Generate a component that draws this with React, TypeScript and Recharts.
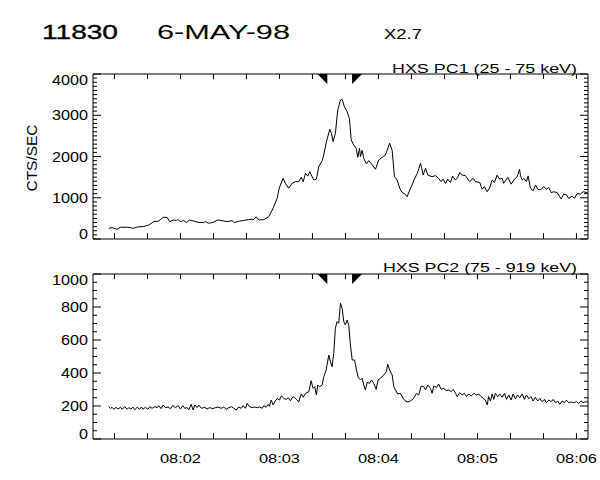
import React from 'react';
import { LineChart, Line, XAxis, YAxis, ReferenceDot } from 'recharts';

// ---- data (seconds after 08:00:00 UT, counts/sec) ----
const pc1Time = [
  76.5, 78.6, 81.6, 83.6, 87.7, 91.7, 93.8, 97.8, 100.8, 103.8, 106.8, 109.5, 111.9, 113.5, 115.6, 117.6,
  118.4, 120, 122, 123.6, 125.6, 128.1, 131.1, 134.1, 135.2, 137.2, 140.2, 142.2, 145.3, 148.3, 151.3, 152.7,
  155.3, 158.4, 161.4, 163.5, 164.4, 165.9, 167.5, 170.5, 173.5, 175.6, 176.5, 178.6, 179.6, 180.6, 182.2,
  183.6, 185.6, 187.7, 189.7, 191.7, 193.2, 194.4, 195.8, 197.2, 198.4, 199.8, 200.8, 202.4, 203.8, 205.9,
  206.8, 208.5, 210.5, 211.5, 212.5, 213.9, 215.3, 217, 218, 219.4, 221, 222.4, 223.5, 225, 226.5, 227.5,
  228.5, 229.1, 230.1, 231.1, 232.7, 234.1, 235.8, 238.2, 240.2, 242.2, 244.2, 246.8, 248.3, 249.7, 251.3,
  252.9, 254.4, 255.8, 257.4, 259, 260.4, 261.8, 263.5, 265.5, 267.1, 268.5, 269.9, 272.5, 274.5, 276.5,
  278, 279.2, 280.6, 282, 283.6, 285, 286.7, 288.1, 289.3, 290.7, 292.7, 295.3, 297.4, 298.8, 301.4, 302.8,
  304.2, 305.9, 307.3, 308.9, 310.3, 311.9, 313.5, 315, 315.9, 318.4, 320.4, 322.4, 324.1, 325.5, 326.1,
  327.1, 328.1, 329.7, 330.7, 332.1, 333.8, 335.2, 336.6, 338.2, 340.2, 341.8, 343.2, 344.7, 346.2, 348.3,
  349.9, 350.7, 352.3, 353.9, 355.3, 357.4, 358.8, 360.4, 362.4, 364.1, 366.5,
];
const pc1Counts = [
  260, 275, 235, 285, 285, 260, 290, 305, 340, 420, 435, 525, 525, 420, 460, 450,
  470, 425, 445, 400, 460, 435, 400, 400, 420, 380, 410, 460, 445, 420, 445, 400,
  430, 450, 470, 480, 470, 540, 460, 470, 540, 700, 780, 985, 1190, 1310, 1470,
  1350, 1230, 1350, 1390, 1390, 1495, 1390, 1590, 1525, 1630, 1510, 1430, 1450, 1750, 1900,
  2035, 2360, 2660, 2560, 2360, 2560, 3125, 3370, 3385, 3205, 3085, 2925, 2400, 2280, 2200, 1980,
  2200, 2000, 2150, 1955, 1820, 1900, 1820, 1690, 1915, 1980, 2035, 2320, 2150, 1510, 1430,
  1230, 1125, 1100, 1025, 1190, 1310, 1450, 1590, 1835, 1550, 1715, 1550, 1510, 1535, 1470,
  1390, 1450, 1350, 1450, 1370, 1525, 1430, 1495, 1615, 1550, 1535, 1390, 1470, 1390, 1370, 1205,
  1270, 1145, 1230, 1430, 1370, 1550, 1450, 1470, 1350, 1495, 1330, 1450, 1510, 1690, 1530,
  1430, 1470, 1390, 1530, 1230, 1170, 1310, 1205, 1190, 1270, 1205, 1250, 1125, 1145, 1125,
  1025, 970, 1090, 1070, 985, 1040, 985, 1100, 1090, 1145, 1125,
];

const pc2Time = [
  76.5, 77.6, 78.6, 79.6, 81.0, 82.2, 83.6, 84.7, 86.2, 87.7, 88.7, 90.1, 91.1, 92.3, 93.8, 95.2, 96.4,
  97.2, 98.8, 100.2, 101.4, 102.8, 104.4, 105.9, 106.8, 108.3, 109.5, 110.9, 112.5, 113.9, 115.3, 117.0,
  118.6, 120.0, 121.4, 122.6, 124.1, 125.0, 126.5, 127.7, 128.7, 130.1, 131.1, 132.7, 134.7, 136.2, 137.6,
  139.6, 141.2, 142.8, 144.8, 146.2, 147.7, 149.3, 150.9, 152.3, 153.8, 155.3, 156.8, 158.0, 159.4, 160.4,
  161.8, 163.5, 165.0, 166.5, 167.9, 169.5, 170.5, 171.9, 173.2, 173.9, 175.0, 176.2, 177.2, 178.6, 180.0,
  181.2, 182.6, 184.1, 185.3, 186.7, 188.1, 189.1, 190.3, 191.7, 193.2, 194.4, 195.8, 197.8, 199.2, 200.4,
  201.4, 202.4, 203.2, 204.4, 205.9, 206.8, 208.3, 209.9, 210.9, 211.9, 212.9, 213.9, 214.9, 215.9, 217.0,
  218.0, 219.0, 220.0, 221.0, 222.0, 223.0, 224.1, 225.5, 226.7, 227.7, 229.1, 230.1, 231.1, 232.1, 233.1,
  234.7, 235.8, 237.1, 238.6, 239.8, 241.2, 243.2, 244.8, 245.6, 246.8, 248.3, 249.3, 250.3, 251.7, 253.3,
  255.3, 257.4, 259.4, 261.4, 263.0, 264.4, 265.9, 267.5, 268.5, 269.9, 271.5, 272.5, 273.5, 275.2, 276.5,
  278.0, 279.6, 281.2, 282.6, 284.1, 285.3, 286.7, 287.7, 289.3, 290.7, 292.1, 293.3, 294.7, 296.2, 297.8,
  299.4, 300.8, 302.2, 303.5, 304.8, 305.9, 306.8, 307.9, 308.9, 309.9, 310.9, 312.3, 313.5, 315.0, 316.4,
  317.6, 319.0, 320.4, 321.6, 323.0, 324.4, 325.6, 327.1, 328.5, 329.7, 331.1, 332.5, 333.7, 335.1, 336.5,
  337.8, 339.2, 340.6, 341.8, 343.2, 344.7, 345.9, 347.3, 348.7, 349.9, 351.3, 352.7, 353.9, 355.3, 356.8,
  358.3, 360.0, 361.4, 362.8, 364.0, 365.5, 366.9,
];
const pc2Counts = [
  196, 186, 192, 180, 192, 182, 192, 180, 196, 180, 190, 182, 194, 178, 192, 180, 194,
  180, 192, 180, 196, 186, 196, 190, 202, 184, 206, 190, 194, 184, 202, 190,
  202, 182, 202, 186, 190, 176, 210, 176, 206, 190, 206, 186, 192, 182, 190,
  184, 190, 194, 186, 194, 180, 190, 196, 186, 176, 194, 186, 202, 186, 216,
  196, 190, 194, 190, 194, 186, 202, 192, 210, 198, 236, 206, 226, 246, 236,
  262, 246, 240, 250, 232, 256, 253, 240, 224, 273, 253, 277, 287, 353, 307,
  317, 267, 327, 317, 327, 374, 418, 509, 468, 438, 519, 671, 711, 701, 822,
  792, 711, 691, 721, 691, 570, 479, 479, 418, 374, 358, 368, 327, 297, 342,
  338, 358, 338, 301, 358, 368, 388, 408, 454, 418, 388, 317, 297, 273, 277,
  240, 224, 230, 246, 277, 267, 321, 317, 297, 327, 307, 277, 321, 313, 333,
  301, 307, 293, 297, 287, 301, 277, 257, 281, 267, 277, 257, 273, 261, 277,
  267, 273, 257, 246, 236, 206, 257, 230, 273, 240, 277, 257, 273, 253, 277,
  240, 267, 236, 273, 244, 267, 250, 273, 240, 267, 244, 257, 230, 253, 230,
  246, 226, 240, 220, 236, 226, 240, 220, 230, 210, 230, 220, 236, 220, 224,
  220, 226, 216, 230, 220, 226, 224,
];

const markerTimes = [209, 224];
const timeDomain = [67, 367];
const timeTicks = [80, 100, 120, 140, 160, 180, 200, 220, 240, 260, 280, 300, 320, 340, 360];
const timeLabelTicks = [120, 180, 240, 300, 360];
const timeLabels = ['08:02', '08:03', '08:04', '08:05', '08:06'];

const pc1Max = 4000;
const pc1Major = [0, 1000, 2000, 3000, 4000];
const pc1Minor = Array.from({ length: 41 }, (_, i) => i * 100);
const pc2Max = 1000;
const pc2Major = [0, 200, 400, 600, 800, 1000];
const pc2Minor = Array.from({ length: 21 }, (_, i) => i * 50);

const titleId = '11830';
const titleDate = '6-MAY-98';
const titleClass = 'X2.7';
const pc1Label = 'HXS PC1 (25 - 75 keV)';
const pc2Label = 'HXS PC2 (75 - 919 keV)';
const yLabel = 'CTS/SEC';

const pc1Data = pc1Time.map((t, i) => ({ t, v: pc1Counts[i] }));
const pc2Data = pc2Time.map((t, i) => ({ t, v: pc2Counts[i] }));

const FONT = '"Liberation Sans", Arial, sans-serif';

const makeLeftTick = (majors: number[], max: number) => (props: any) => {
  const { x, y, payload } = props;
  const v = payload.value;
  const major = majors.includes(v);
  const s = String(v);
  let dy = 5;
  if (v === max) dy += 6;
  if (v === 0) dy -= 5;
  return (
    <g>
      <line x1={x} x2={x + (major ? 8 : 4)} y1={y} y2={y} stroke="#000" strokeWidth={1} />
      {major && (
        <text x={x - 5} y={y + dy} textAnchor="end" fontSize={14} fontFamily={FONT} fill="#000"
          textLength={s.length * 9} lengthAdjust="spacingAndGlyphs">{s}</text>
      )}
    </g>
  );
};

const makeRightTick = (majors: number[]) => (props: any) => {
  const { x, y, payload } = props;
  const major = majors.includes(payload.value);
  return <line x1={x} x2={x - (major ? 8 : 4)} y1={y} y2={y} stroke="#000" strokeWidth={1} />;
};

const TopTick = (props: any) => {
  const { x, y } = props;
  return <line x1={x} x2={x} y1={y} y2={y + 5} stroke="#000" strokeWidth={1} />;
};

const makeBottomTick = (withLabels: boolean) => (props: any) => {
  const { x, y, payload } = props;
  const idx = timeLabelTicks.indexOf(payload.value);
  return (
    <g>
      <line x1={x} x2={x} y1={y} y2={y - 6} stroke="#000" strokeWidth={1} />
      {withLabels && idx >= 0 && (
        <text x={x} y={y + 23.5} textAnchor="middle" fontSize={13.5} fontFamily={FONT} fill="#000"
          textLength={41} lengthAdjust="spacingAndGlyphs">{timeLabels[idx]}</text>
      )}
    </g>
  );
};

const MarkerLeft = (props: any) => {
  const { cx, cy } = props;
  return <polygon points={`${cx - 10},${cy} ${cx},${cy} ${cx},${cy + 10}`} fill="#000" />;
};
const MarkerRight = (props: any) => {
  const { cx, cy } = props;
  return <polygon points={`${cx},${cy} ${cx + 10},${cy} ${cx},${cy + 10}`} fill="#000" />;
};

function Panel(props: {
  data: { t: number; v: number }[];
  max: number;
  majors: number[];
  minors: number[];
  height: number;
  marginTop: number;
  bottomHeight: number;
  labels: boolean;
}) {
  const { data, max, majors, minors, height, marginTop, bottomHeight, labels } = props;
  return (
    <LineChart width={600} height={height} data={data} margin={{ top: marginTop, right: 0, bottom: 0, left: 0 }}>
      <XAxis type="number" dataKey="t" domain={timeDomain} allowDataOverflow ticks={timeTicks} interval={0}
        tickSize={0} tickMargin={0} height={bottomHeight} axisLine={{ stroke: '#000' }} tickLine={false}
        tick={makeBottomTick(labels)} />
      <XAxis xAxisId="top" orientation="top" type="number" dataKey="t" domain={timeDomain} allowDataOverflow
        ticks={timeTicks} interval={0} tickSize={0} tickMargin={0} height={10} axisLine={{ stroke: '#000' }}
        tickLine={false} tick={TopTick} />
      <YAxis type="number" domain={[0, max]} allowDataOverflow ticks={minors} interval={0} width={93}
        tickSize={0} tickMargin={0} axisLine={{ stroke: '#000' }} tickLine={false} tick={makeLeftTick(majors, max)} />
      <YAxis yAxisId="r" orientation="right" type="number" domain={[0, max]} allowDataOverflow ticks={minors}
        interval={0} width={12} tickSize={0} tickMargin={0} axisLine={{ stroke: '#000' }} tickLine={false}
        tick={makeRightTick(majors)} />
      <Line type="linear" dataKey="v" stroke="#000" strokeWidth={1} dot={false} isAnimationActive={false} />
      <ReferenceDot x={markerTimes[0]} y={max} ifOverflow="visible" shape={MarkerLeft} />
      <ReferenceDot x={markerTimes[1]} y={max} ifOverflow="visible" shape={MarkerRight} />
    </LineChart>
  );
}

export default function App() {
  return (
    <div style={{ position: 'absolute', left: 0, top: 0, width: 600, height: 480, background: '#fff' }}>
      <div style={{ position: 'absolute', left: 0, top: 0 }}>
        <Panel data={pc1Data} max={pc1Max} majors={pc1Major} minors={pc1Minor} height={250} marginTop={64}
          bottomHeight={11} labels={false} />
      </div>
      <div style={{ position: 'absolute', left: 0, top: 250 }}>
        <Panel data={pc2Data} max={pc2Max} majors={pc2Major} minors={pc2Minor} height={230} marginTop={14}
          bottomHeight={41} labels={true} />
      </div>
      <svg width={600} height={480} style={{ position: 'absolute', left: 0, top: 0, pointerEvents: 'none' }}>
        <text x={42} y={39} fontSize={20} fontFamily={FONT} stroke="#000" strokeWidth={0.35} textLength={76}
          lengthAdjust="spacingAndGlyphs">{titleId}</text>
        <text x={157} y={39} fontSize={20} fontFamily={FONT} textLength={133}
          lengthAdjust="spacingAndGlyphs">{titleDate}</text>
        <text x={384} y={39} fontSize={14} fontFamily={FONT} textLength={38}
          lengthAdjust="spacingAndGlyphs">{titleClass}</text>
        <text x={577} y={72.5} textAnchor="end" fontSize={12.5} fontFamily={FONT} textLength={185}
          lengthAdjust="spacingAndGlyphs">{pc1Label}</text>
        <text x={577} y={272} textAnchor="end" fontSize={12.5} fontFamily={FONT} textLength={194}
          lengthAdjust="spacingAndGlyphs">{pc2Label}</text>
        <text x={36.5} y={158} textAnchor="middle" fontSize={14} fontFamily={FONT} textLength={67}
          lengthAdjust="spacingAndGlyphs" transform="rotate(-90, 36.5, 158)">{yLabel}</text>
      </svg>
    </div>
  );
}
